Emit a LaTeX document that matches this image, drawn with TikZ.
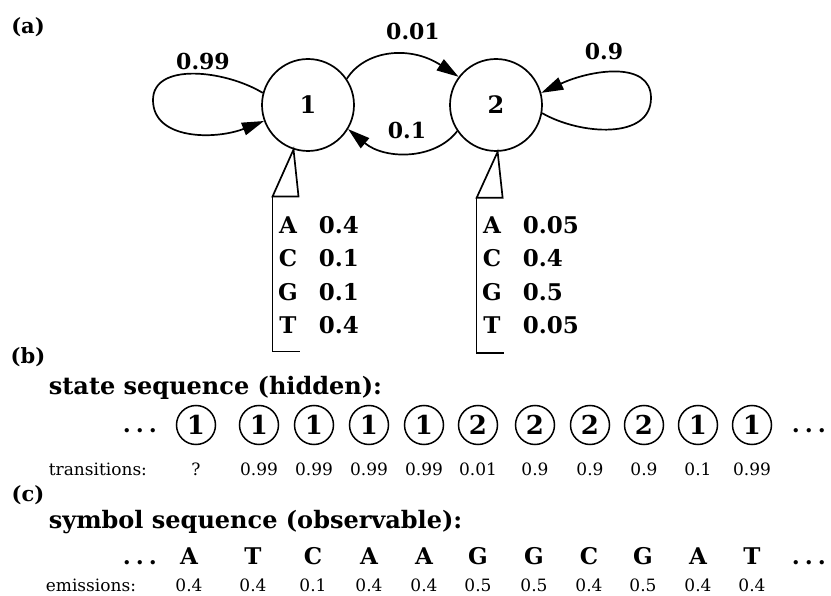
\documentclass[tikz,border=0pt]{standalone}
\usepackage{fontspec}
\setmainfont{DejaVu Serif}
\usetikzlibrary{arrows.meta}

\begin{document}
\begin{tikzpicture}[
    x=1pt, y=1pt,
    line width=1.7pt,
    hmmstate/.style={draw, circle, minimum size=92pt, inner sep=0pt,
      font=\fontsize{24}{24}\selectfont\bfseries},
    seqstate/.style={draw, circle, minimum size=39pt, inner sep=0pt,
      line width=1.5pt, font=\fontsize{26}{26}\selectfont\bfseries},
    prob/.style={inner sep=0pt, font=\fontsize{22}{22}\selectfont\bfseries},
    emit/.style={inner sep=0pt, font=\fontsize{23}{23}\selectfont\bfseries},
    panel/.style={inner sep=0pt, font=\fontsize{21}{21}\selectfont\bfseries},
    heading/.style={inner sep=0pt, anchor=base west,
      font=\fontsize{24}{24}\selectfont\bfseries},
    seqnum/.style={inner sep=0pt, font=\fontsize{17}{17}\selectfont},
    arr/.style={-{Triangle[length=22pt,width=13pt]}}
  ]
  \useasboundingbox (0,0) rectangle (831,-596);
  % 小标题
  \node[panel] (pa) at (28,-27) {(a)};
  \node[panel] (pb) at (28,-357) {(b)};
  \node[panel] (pc) at (28,-495) {(c)};
  % 两个状态
  \node[hmmstate] (n1) at (308,-105) {1};
  \node[hmmstate] (n2) at (496,-105) {2};
  % 状态转移
  \draw[arr] (n1.165) .. controls (225,-70) and (153,-62) .. (153,-100)
    .. controls (153,-140) and (215,-140) .. (n1.200);
  \draw[arr] (n1.34) .. controls (365,-50) and (410,-45) .. (n2.143);
  \draw[arr] (n2.214) .. controls (435,-160) and (385,-160) .. (n1.329);
  \draw[arr] (n2.-10) .. controls (580,-135) and (651,-140) .. (651,-98)
    .. controls (651,-60) and (590,-70) .. (n2.15);
  \node[prob] (t11) at (203,-61) {0.99};
  \node[prob] (t12) at (413,-31) {0.01};
  \node[prob] (t21) at (407,-130) {0.1};
  \node[prob] (t22) at (604,-51) {0.9};
  % 发射概率
  \draw (n1.252) -- ++(-21,-47) coordinate (b1) -- ++(26,0) -- cycle;
  \draw (b1) -- ++(0,-155) -- ++(27,0);
  \draw (n2.272) -- ++(-21,-46) coordinate (b2) -- ++(26,0) -- cycle;
  \draw (b2) -- ++(0,-155) -- ++(27,0);
  \foreach \sym/\pa/\pb [count=\i] in {A/0.4/0.05, C/0.1/0.4, G/0.1/0.5, T/0.4/0.05}{
    \node[emit, anchor=base] (ea\i) at (288,-200-33.5*\i) {\sym};
    \node[emit, anchor=base west] (pa\i) at (318,-200-33.5*\i) {\pa};
    \node[emit, anchor=base] (eb\i) at (492,-200-33.5*\i) {\sym};
    \node[emit, anchor=base west] (pb\i) at (522,-200-33.5*\i) {\pb};
  }
  % 状态序列
  \node[heading] (hs) at (48,-395) {state sequence (hidden):};
  \node[emit, anchor=base] (dl1) at (140,-432) {.\hspace{5pt}.\hspace{5pt}.};
  \node[emit, anchor=base] (dr1) at (809,-432) {.\hspace{5pt}.\hspace{5pt}.};
  \node[seqnum, anchor=west] (tr) at (48,-469) {transitions:};
  \foreach \x/\s/\t [count=\i] in {196/1/?, 259/1/0.99, 314/1/0.99, 369/1/0.99,
      424/1/0.99, 478/2/0.01, 535/2/0.9, 590/2/0.9, 644/2/0.9, 698/1/0.1, 752/1/0.99}{
    \node[seqstate] (s\i) at (\x,-425) {\s};
    \node[seqnum] (ts\i) at (\x,-469) {\t};
  }
  % 观测序列
  \node[heading] (ho) at (48,-528) {symbol sequence (observable):};
  \node[emit, anchor=base] (dl2) at (140,-564) {.\hspace{5pt}.\hspace{5pt}.};
  \node[emit, anchor=base] (dr2) at (809,-564) {.\hspace{5pt}.\hspace{5pt}.};
  \node[seqnum, anchor=west] (em) at (45,-585) {emissions:};
  \foreach \x/\o/\e [count=\i] in {189/A/0.4, 253/T/0.4, 313/C/0.1, 369/A/0.4,
      424/A/0.4, 478/G/0.5, 534/G/0.5, 589/C/0.4, 643/G/0.5, 698/A/0.4, 752/T/0.4}{
    \node[emit] (o\i) at (\x,-556) {\o};
    \node[seqnum] (es\i) at (\x,-585) {\e};
  }
\end{tikzpicture}
\end{document}
